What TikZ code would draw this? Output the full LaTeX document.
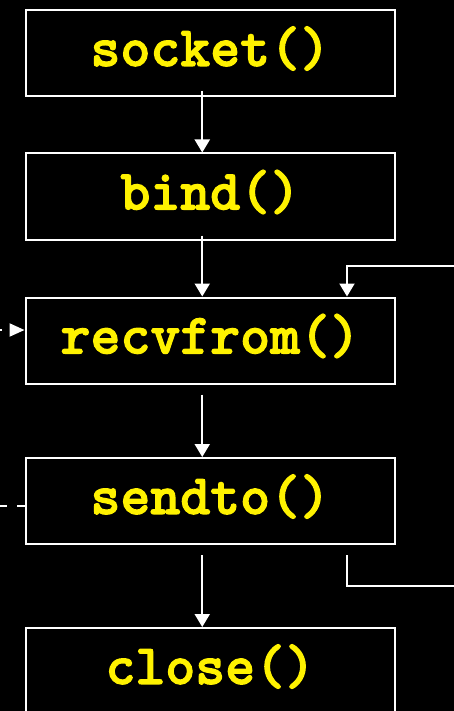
\documentclass[tikz,border=0pt]{standalone}
\usepackage{fontspec}
\newfontfamily\callfont{lmmonolt10-bold.otf}[FakeBold=2]
\newcommand\calltext[1]{\raisebox{4.5pt}[\height][\depth]{#1}}
\usetikzlibrary{arrows.meta}
\begin{document}
\begin{tikzpicture}[x=1pt,y=-1pt,
  callbox/.style={draw=white, line width=2pt, fill=black, minimum width=369.5pt,
    minimum height=86pt, inner sep=0pt, text=yellow,
    font=\fontsize{57}{66}\selectfont\callfont},
  flow/.style={draw=white, line width=2pt, -{Triangle[width=15pt,length=13pt]}},
  link/.style={draw=white, line width=2pt},
  peer/.style={draw=white, line width=2pt, dash pattern=on 8pt off 10pt}]
  % page
  \fill[black] (0,0) rectangle (454,711);
  \useasboundingbox (0,0) rectangle (454,711);

  % calls of a UDP server
  \node[callbox] (socket) at (210.25,53) {\calltext{socket()}};
  \node[callbox] (bind) at (210.25,196.5) {\calltext{bind()}};
  \node[callbox] (recvfrom) at (210.25,340.5) {\calltext{recvfrom()}};
  \node[callbox] (sendto) at (210.25,501) {\calltext{sendto()}};
  \node[callbox] (close) at (210.25,671) {\calltext{close()}};

  % main sequence
  \draw[flow] ([xshift=-8pt,yshift=6pt]socket.south) -- ([xshift=-8pt]bind.north);
  \draw[flow] ([xshift=-8pt,yshift=5pt]bind.south) -- ([xshift=-8pt]recvfrom.north);
  \draw[flow] ([xshift=-8pt,yshift=-10pt]recvfrom.south) -- ([xshift=-8pt]sendto.north);
  \draw[flow] ([xshift=-8pt,yshift=-10pt]sendto.south) -- ([xshift=-8pt]close.north);

  % loop back from sendto to recvfrom
  \coordinate (loopout) at (456,586);
  \coordinate (loopin) at (456,266);
  \draw[link] ([xshift=-49pt,yshift=-10pt]sendto.south east) |- (loopout);
  \draw[flow] (loopin) -| ([xshift=-49pt]recvfrom.north east);

  % datagrams from and to the client
  \coordinate (clientin) at (-8,330);
  \coordinate (clientout) at (-8,505.5);
  \draw[peer, {Triangle[width=13pt,length=15pt]}-, dash phase=10pt]
    ([yshift=10.5pt]recvfrom.west) -- (clientin);
  \draw[peer] ([yshift=-4.5pt]sendto.west) -- (clientout);
\end{tikzpicture}
\end{document}
